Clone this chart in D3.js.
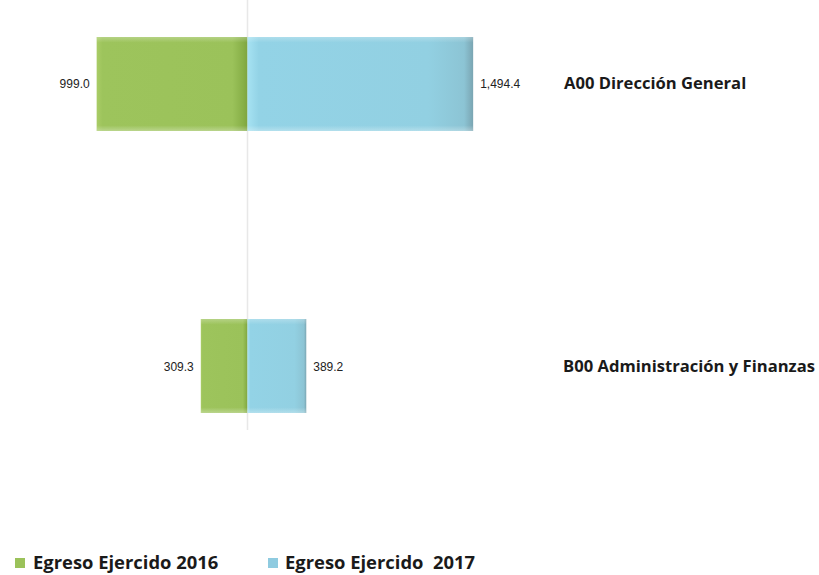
<!DOCTYPE html>
<html>
<head>
<meta charset="utf-8">
<script src="https://cdn.jsdelivr.net/npm/d3@7"></script>
<style>
  html, body { margin: 0; padding: 0; background: #ffffff; }
  svg { display: block; }
</style>
</head>
<body>
<svg id="chart" width="819" height="575"></svg>
<script>
// Expenditure by administrative unit, 2016 (left) vs 2017 (right)
const categories = ["A00 Dirección General", "B00 Administración y Finanzas"];
const egreso2016 = [999.0, 309.3];
const egreso2017 = [1494.4, 389.2];
const seriesNames = ["Egreso Ejercido 2016", "Egreso Ejercido  2017"];

const svg = d3.select("#chart");

const x = d3.scaleLinear().domain([-1000, 1500]).range([96.5, 474]);
const y = d3.scaleBand().domain(categories).range([37, 413])
  .paddingInner(0.6667).paddingOuter(0);

const fmt = d3.format(",.1f");

// gradients for the bevelled bars
const defs = svg.append("defs");
const gGreen = defs.append("linearGradient").attr("id", "gGreen")
  .attr("x1", "0").attr("x2", "1").attr("y1", "0").attr("y2", "0");
[[0, "#a9cc66"], [0.04, "#9dc45c"], [0.9, "#9bc25a"], [0.97, "#88b048"], [1, "#7ea540"]]
  .forEach(([o, c]) => gGreen.append("stop").attr("offset", o).attr("stop-color", c));
const gBlue = defs.append("linearGradient").attr("id", "gBlue")
  .attr("x1", "0").attr("x2", "1").attr("y1", "0").attr("y2", "0");
[[0, "#a6e2f2"], [0.05, "#93d3e6"], [0.8, "#92d0e2"], [0.96, "#8cc4d4"], [1, "#7aa5b2"]]
  .forEach(([o, c]) => gBlue.append("stop").attr("offset", o).attr("stop-color", c));
const gShade = defs.append("linearGradient").attr("id", "gShade")
  .attr("x1", "0").attr("x2", "0").attr("y1", "0").attr("y2", "1");
[[0, "#ffffff", 0.25], [0.06, "#ffffff", 0], [0.94, "#ffffff", 0], [1, "#ffffff", 0.3]]
  .forEach(([o, c, a]) => gShade.append("stop").attr("offset", o).attr("stop-color", c).attr("stop-opacity", a));

// zero line
svg.append("line")
  .attr("x1", x(0)).attr("x2", x(0))
  .attr("y1", 0).attr("y2", 430)
  .attr("stroke", "#e8e8e8").attr("stroke-width", 1.5);

const rows = categories.map((c, i) => ({ cat: c, v16: egreso2016[i], v17: egreso2017[i] }));

const g = svg.append("g");

// 2016 bars extend left
g.selectAll("rect.b16").data(rows).join("rect")
  .attr("class", "b16")
  .attr("x", d => x(-d.v16))
  .attr("width", d => x(0) - x(-d.v16))
  .attr("y", d => y(d.cat))
  .attr("height", y.bandwidth())
  .attr("fill", "url(#gGreen)");

// 2017 bars extend right
g.selectAll("rect.b17").data(rows).join("rect")
  .attr("class", "b17")
  .attr("x", x(0))
  .attr("width", d => x(d.v17) - x(0))
  .attr("y", d => y(d.cat))
  .attr("height", y.bandwidth())
  .attr("fill", "url(#gBlue)");

// soft highlight on top/bottom edges
g.selectAll("rect.shade").data(rows).join("rect")
  .attr("class", "shade")
  .attr("x", d => x(-d.v16))
  .attr("width", d => x(d.v17) - x(-d.v16))
  .attr("y", d => y(d.cat))
  .attr("height", y.bandwidth())
  .attr("fill", "url(#gShade)");

const valFont = "'Liberation Sans', Arial, sans-serif";

// value labels
g.selectAll("text.l16").data(rows).join("text")
  .attr("x", d => x(-d.v16) - 7)
  .attr("y", d => y(d.cat) + y.bandwidth() / 2 + 4.5)
  .attr("text-anchor", "end")
  .attr("font-family", valFont).attr("font-size", 12)
  .attr("fill", "#222")
  .text(d => fmt(d.v16));

g.selectAll("text.l17").data(rows).join("text")
  .attr("x", d => x(d.v17) + 7)
  .attr("y", d => y(d.cat) + y.bandwidth() / 2 + 4.5)
  .attr("text-anchor", "start")
  .attr("font-family", valFont).attr("font-size", 12)
  .attr("fill", "#222")
  .text(d => fmt(d.v17));

// category labels on the right
const catX = [564, 563];
g.selectAll("text.cat").data(rows).join("text")
  .attr("x", (d, i) => catX[i])
  .attr("y", d => y(d.cat) + y.bandwidth() / 2 + 5.5)
  .attr("font-family", "'Open Sans', 'Noto Sans', sans-serif")
  .attr("font-weight", "bold").attr("font-size", 16.6)
  .attr("fill", "#1a1a1a")
  .text(d => d.cat);

// legend
const legend = svg.append("g");
const legendItems = [
  { name: seriesNames[0], color: "#9bc25a", mx: 15, tx: 33 },
  { name: seriesNames[1], color: "#8fcbe0", mx: 268, tx: 285 }
];
legend.selectAll("rect").data(legendItems).join("rect")
  .attr("x", d => d.mx).attr("y", 558)
  .attr("width", 10).attr("height", 10)
  .attr("fill", d => d.color);
legend.selectAll("text").data(legendItems).join("text")
  .attr("x", d => d.tx).attr("y", 569)
  .attr("font-family", "'Open Sans', 'Noto Sans', sans-serif")
  .attr("font-weight", "bold").attr("font-size", 18.4)
  .attr("fill", "#1a1a1a")
  .attr("xml:space", "preserve")
  .style("white-space", "pre")
  .text(d => d.name);
</script>
</body>
</html>
